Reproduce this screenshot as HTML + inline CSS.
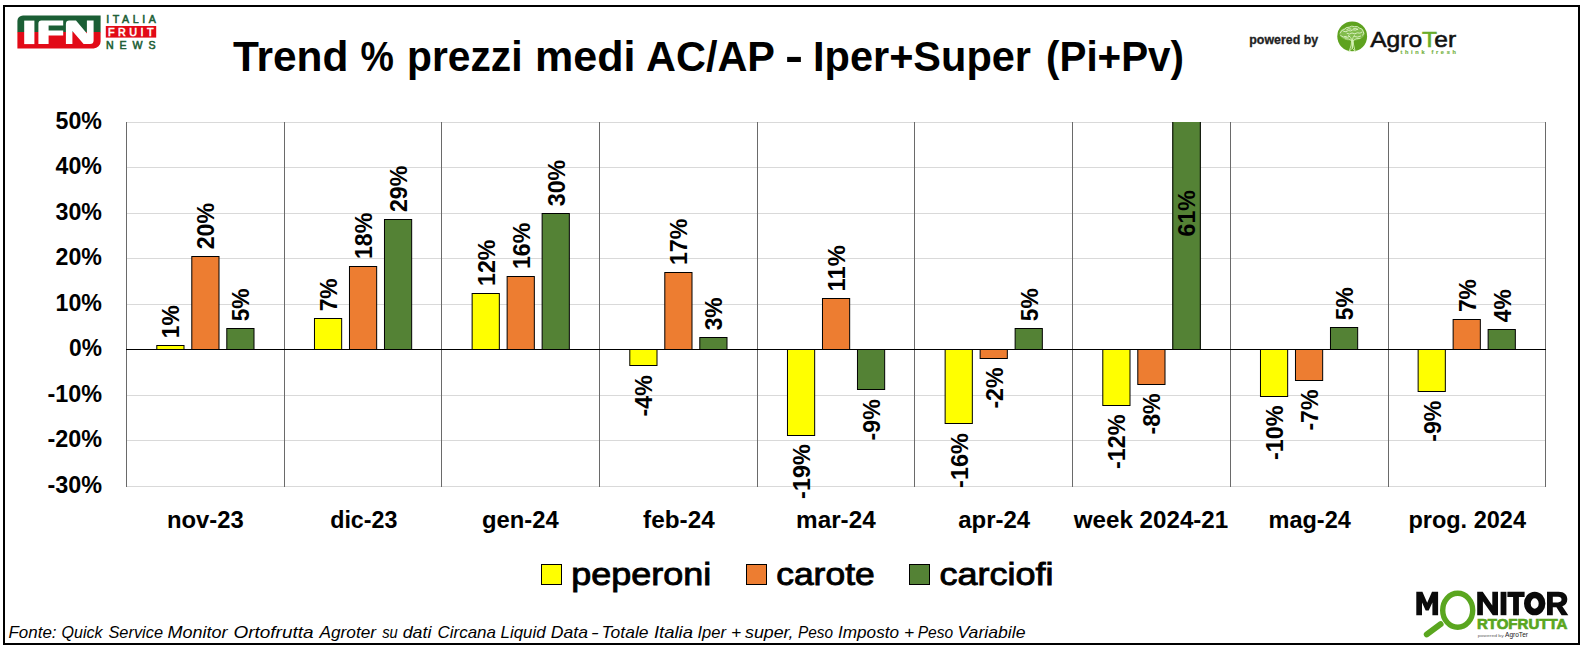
<!DOCTYPE html><html><head><meta charset="utf-8"><title>Trend prezzi</title><style>
html,body{margin:0;padding:0;background:#fff}body{width:1584px;height:648px;overflow:hidden}svg{display:block}
text{font-family:"Liberation Sans",sans-serif}.b{font-weight:bold}
</style></head><body>
<svg width="1584" height="648" viewBox="0 0 1584 648">
<rect x="0" y="0" width="1584" height="648" fill="#fff"/>
<rect x="4" y="6" width="1575" height="638" fill="none" stroke="#000" stroke-width="2" shape-rendering="crispEdges"/>
<g shape-rendering="crispEdges" stroke="#d9d9d9" stroke-width="1">
<line x1="126" x2="1546" y1="122.5" y2="122.5"/>
<line x1="126" x2="1546" y1="167.5" y2="167.5"/>
<line x1="126" x2="1546" y1="213.5" y2="213.5"/>
<line x1="126" x2="1546" y1="258.5" y2="258.5"/>
<line x1="126" x2="1546" y1="304.5" y2="304.5"/>
<line x1="126" x2="1546" y1="395.5" y2="395.5"/>
<line x1="126" x2="1546" y1="440.5" y2="440.5"/>
<line x1="126" x2="1546" y1="486.5" y2="486.5"/>
</g>
<g shape-rendering="crispEdges" stroke="#6a6a6a" stroke-width="1">
<line x1="126.5" x2="126.5" y1="122" y2="487"/>
<line x1="284.5" x2="284.5" y1="122" y2="487"/>
<line x1="441.5" x2="441.5" y1="122" y2="487"/>
<line x1="599.5" x2="599.5" y1="122" y2="487"/>
<line x1="757.5" x2="757.5" y1="122" y2="487"/>
<line x1="914.5" x2="914.5" y1="122" y2="487"/>
<line x1="1072.5" x2="1072.5" y1="122" y2="487"/>
<line x1="1230.5" x2="1230.5" y1="122" y2="487"/>
<line x1="1388.5" x2="1388.5" y1="122" y2="487"/>
<line x1="1545.5" x2="1545.5" y1="122" y2="487"/>
</g>
<g stroke="#000" stroke-width="1">
<rect x="156.80" y="345.50" width="27.2" height="4.00" fill="#ffff00"/>
<rect x="191.80" y="256.50" width="27.2" height="93.00" fill="#ed7d31"/>
<rect x="226.80" y="328.50" width="27.2" height="21.00" fill="#548235"/>
<rect x="314.47" y="318.50" width="27.2" height="31.00" fill="#ffff00"/>
<rect x="349.47" y="266.50" width="27.2" height="83.00" fill="#ed7d31"/>
<rect x="384.47" y="219.50" width="27.2" height="130.00" fill="#548235"/>
<rect x="472.13" y="293.50" width="27.2" height="56.00" fill="#ffff00"/>
<rect x="507.13" y="276.50" width="27.2" height="73.00" fill="#ed7d31"/>
<rect x="542.13" y="213.50" width="27.2" height="136.00" fill="#548235"/>
<rect x="629.80" y="349.50" width="27.2" height="16.00" fill="#ffff00"/>
<rect x="664.80" y="272.50" width="27.2" height="77.00" fill="#ed7d31"/>
<rect x="699.80" y="337.50" width="27.2" height="12.00" fill="#548235"/>
<rect x="787.47" y="349.50" width="27.2" height="86.00" fill="#ffff00"/>
<rect x="822.47" y="298.50" width="27.2" height="51.00" fill="#ed7d31"/>
<rect x="857.47" y="349.50" width="27.2" height="40.00" fill="#548235"/>
<rect x="945.13" y="349.50" width="27.2" height="74.00" fill="#ffff00"/>
<rect x="980.13" y="349.50" width="27.2" height="9.00" fill="#ed7d31"/>
<rect x="1015.13" y="328.50" width="27.2" height="21.00" fill="#548235"/>
<rect x="1102.80" y="349.50" width="27.2" height="56.00" fill="#ffff00"/>
<rect x="1137.80" y="349.50" width="27.2" height="35.00" fill="#ed7d31"/>
<rect x="1172.30" y="122" width="28.5" height="227" fill="#548235" stroke="none"/>
<line x1="1172.80" x2="1172.80" y1="122" y2="349"/><line x1="1200.30" x2="1200.30" y1="122" y2="349"/>
<rect x="1260.47" y="349.50" width="27.2" height="47.00" fill="#ffff00"/>
<rect x="1295.47" y="349.50" width="27.2" height="31.00" fill="#ed7d31"/>
<rect x="1330.47" y="327.50" width="27.2" height="22.00" fill="#548235"/>
<rect x="1418.13" y="349.50" width="27.2" height="42.00" fill="#ffff00"/>
<rect x="1453.13" y="319.50" width="27.2" height="30.00" fill="#ed7d31"/>
<rect x="1488.13" y="329.50" width="27.2" height="20.00" fill="#548235"/>
</g>
<line x1="126" x2="1546" y1="349.5" y2="349.5" stroke="#000" stroke-width="1" shape-rendering="crispEdges"/>
<g class="b" font-size="24.4" fill="#000">
<text transform="translate(179.4,338.2) rotate(-90)" text-anchor="start" textLength="32.9" lengthAdjust="spacingAndGlyphs">1%</text>
<text transform="translate(214.4,249.3) rotate(-90)" text-anchor="start" textLength="46.4" lengthAdjust="spacingAndGlyphs">20%</text>
<text transform="translate(249.4,321.3) rotate(-90)" text-anchor="start" textLength="32.9" lengthAdjust="spacingAndGlyphs">5%</text>
<text transform="translate(337.1,311.3) rotate(-90)" text-anchor="start" textLength="32.9" lengthAdjust="spacingAndGlyphs">7%</text>
<text transform="translate(372.1,259.1) rotate(-90)" text-anchor="start" textLength="46.4" lengthAdjust="spacingAndGlyphs">18%</text>
<text transform="translate(407.1,212.1) rotate(-90)" text-anchor="start" textLength="46.4" lengthAdjust="spacingAndGlyphs">29%</text>
<text transform="translate(494.7,286.0) rotate(-90)" text-anchor="start" textLength="46.4" lengthAdjust="spacingAndGlyphs">12%</text>
<text transform="translate(529.7,269.1) rotate(-90)" text-anchor="start" textLength="46.4" lengthAdjust="spacingAndGlyphs">16%</text>
<text transform="translate(564.7,206.2) rotate(-90)" text-anchor="start" textLength="46.4" lengthAdjust="spacingAndGlyphs">30%</text>
<text transform="translate(652.4,375.3) rotate(-90)" text-anchor="end" textLength="41.1" lengthAdjust="spacingAndGlyphs">-4%</text>
<text transform="translate(687.4,265.1) rotate(-90)" text-anchor="start" textLength="46.4" lengthAdjust="spacingAndGlyphs">17%</text>
<text transform="translate(722.4,330.3) rotate(-90)" text-anchor="start" textLength="32.9" lengthAdjust="spacingAndGlyphs">3%</text>
<text transform="translate(810.1,444.3) rotate(-90)" text-anchor="end" textLength="54.6" lengthAdjust="spacingAndGlyphs">-19%</text>
<text transform="translate(845.1,291.4) rotate(-90)" text-anchor="start" textLength="46.4" lengthAdjust="spacingAndGlyphs">11%</text>
<text transform="translate(880.1,399.3) rotate(-90)" text-anchor="end" textLength="41.1" lengthAdjust="spacingAndGlyphs">-9%</text>
<text transform="translate(967.7,433.3) rotate(-90)" text-anchor="end" textLength="54.6" lengthAdjust="spacingAndGlyphs">-16%</text>
<text transform="translate(1002.7,367.5) rotate(-90)" text-anchor="end" textLength="41.1" lengthAdjust="spacingAndGlyphs">-2%</text>
<text transform="translate(1037.7,321.2) rotate(-90)" text-anchor="start" textLength="32.9" lengthAdjust="spacingAndGlyphs">5%</text>
<text transform="translate(1125.4,414.5) rotate(-90)" text-anchor="end" textLength="54.6" lengthAdjust="spacingAndGlyphs">-12%</text>
<text transform="translate(1160.4,393.4) rotate(-90)" text-anchor="end" textLength="41.1" lengthAdjust="spacingAndGlyphs">-8%</text>
<text transform="translate(1195.4,236.5) rotate(-90)" text-anchor="start" textLength="46.4" lengthAdjust="spacingAndGlyphs">61%</text>
<text transform="translate(1283.1,405.4) rotate(-90)" text-anchor="end" textLength="54.6" lengthAdjust="spacingAndGlyphs">-10%</text>
<text transform="translate(1318.1,389.5) rotate(-90)" text-anchor="end" textLength="41.1" lengthAdjust="spacingAndGlyphs">-7%</text>
<text transform="translate(1353.1,320.2) rotate(-90)" text-anchor="start" textLength="32.9" lengthAdjust="spacingAndGlyphs">5%</text>
<text transform="translate(1440.7,400.6) rotate(-90)" text-anchor="end" textLength="41.1" lengthAdjust="spacingAndGlyphs">-9%</text>
<text transform="translate(1475.7,312.1) rotate(-90)" text-anchor="start" textLength="32.9" lengthAdjust="spacingAndGlyphs">7%</text>
<text transform="translate(1510.7,322.2) rotate(-90)" text-anchor="start" textLength="32.9" lengthAdjust="spacingAndGlyphs">4%</text>
</g>
<g class="b" font-size="24.4" fill="#000" text-anchor="end">
<text x="102.0" y="129" textLength="46.4" lengthAdjust="spacingAndGlyphs">50%</text>
<text x="102.0" y="174" textLength="46.4" lengthAdjust="spacingAndGlyphs">40%</text>
<text x="102.0" y="220" textLength="46.4" lengthAdjust="spacingAndGlyphs">30%</text>
<text x="102.0" y="265" textLength="46.4" lengthAdjust="spacingAndGlyphs">20%</text>
<text x="102.0" y="311" textLength="46.4" lengthAdjust="spacingAndGlyphs">10%</text>
<text x="102.0" y="356" textLength="32.9" lengthAdjust="spacingAndGlyphs">0%</text>
<text x="102.0" y="402" textLength="54.6" lengthAdjust="spacingAndGlyphs">-10%</text>
<text x="102.0" y="447" textLength="54.6" lengthAdjust="spacingAndGlyphs">-20%</text>
<text x="102.0" y="493" textLength="54.6" lengthAdjust="spacingAndGlyphs">-30%</text>
</g>
<g class="b" font-size="24.4" fill="#000" text-anchor="middle">
<text x="205.3" y="527.8" textLength="76.8" lengthAdjust="spacingAndGlyphs">nov-23</text>
<text x="363.8" y="527.8" textLength="67.2" lengthAdjust="spacingAndGlyphs">dic-23</text>
<text x="520.4" y="527.8" textLength="76.6" lengthAdjust="spacingAndGlyphs">gen-24</text>
<text x="678.9" y="527.8" textLength="71.6" lengthAdjust="spacingAndGlyphs">feb-24</text>
<text x="835.9" y="527.8" textLength="79.6" lengthAdjust="spacingAndGlyphs">mar-24</text>
<text x="994.2" y="527.8" textLength="72.0" lengthAdjust="spacingAndGlyphs">apr-24</text>
<text x="1151" y="527.8" textLength="154.5" lengthAdjust="spacingAndGlyphs">week 2024-21</text>
<text x="1309.7" y="527.8" textLength="82.2" lengthAdjust="spacingAndGlyphs">mag-24</text>
<text x="1467.2" y="527.8" textLength="117.6" lengthAdjust="spacingAndGlyphs">prog. 2024</text>
</g>
<g class="b" font-size="43.3" fill="#000">
<text x="232.98" y="70.5" textLength="115.47" lengthAdjust="spacingAndGlyphs">Trend</text>
<text x="360.58" y="70.5" textLength="33.39" lengthAdjust="spacingAndGlyphs">%</text>
<text x="407.00" y="70.5" textLength="115.50" lengthAdjust="spacingAndGlyphs">prezzi</text>
<text x="535.00" y="70.5" textLength="100.51" lengthAdjust="spacingAndGlyphs">medi</text>
<text x="646.02" y="70.5" textLength="128.96" lengthAdjust="spacingAndGlyphs">AC/AP</text>
<text x="784.96" y="70.5" textLength="18.07" lengthAdjust="spacingAndGlyphs">-</text>
<text x="813.02" y="70.5" textLength="217.98" lengthAdjust="spacingAndGlyphs">Iper+Super</text>
<text x="1046.02" y="70.5" textLength="137.97" lengthAdjust="spacingAndGlyphs">(Pi+Pv)</text>
</g>
<g shape-rendering="crispEdges" stroke="#000" stroke-width="1">
<rect x="541.5" y="564.5" width="20" height="20" fill="#ffff00"/>
<rect x="746.5" y="564.5" width="20" height="20" fill="#ed7d31"/>
<rect x="909.5" y="564.5" width="20" height="20" fill="#548235"/>
</g>
<g font-size="31.8" fill="#000" stroke="#000" stroke-width="0.9">
<text x="571.3" y="585" textLength="140" lengthAdjust="spacingAndGlyphs">peperoni</text>
<text x="776.2" y="585" textLength="98.5" lengthAdjust="spacingAndGlyphs">carote</text>
<text x="939.6" y="585" textLength="114" lengthAdjust="spacingAndGlyphs">carciofi</text>
</g>
<g font-size="16.6" font-style="italic" fill="#000">
<text x="8.50" y="637.8" textLength="48.00" lengthAdjust="spacingAndGlyphs">Fonte:</text>
<text x="61.51" y="637.8" textLength="41.03" lengthAdjust="spacingAndGlyphs">Quick</text>
<text x="108.48" y="637.8" textLength="54.51" lengthAdjust="spacingAndGlyphs">Service</text>
<text x="167.50" y="637.8" textLength="60.02" lengthAdjust="spacingAndGlyphs">Monitor</text>
<text x="233.50" y="637.8" textLength="80.00" lengthAdjust="spacingAndGlyphs">Ortofrutta</text>
<text x="319.45" y="637.8" textLength="56.61" lengthAdjust="spacingAndGlyphs">Agroter</text>
<text x="382.19" y="637.8" textLength="15.62" lengthAdjust="spacingAndGlyphs">su</text>
<text x="402.68" y="637.8" textLength="28.81" lengthAdjust="spacingAndGlyphs">dati</text>
<text x="437.51" y="637.8" textLength="58.49" lengthAdjust="spacingAndGlyphs">Circana</text>
<text x="500.53" y="637.8" textLength="45.06" lengthAdjust="spacingAndGlyphs">Liquid</text>
<text x="550.82" y="637.8" textLength="37.14" lengthAdjust="spacingAndGlyphs">Data</text>
<text x="590.88" y="637.8" textLength="8.01" lengthAdjust="spacingAndGlyphs">-</text>
<text x="601.52" y="637.8" textLength="47.00" lengthAdjust="spacingAndGlyphs">Totale</text>
<text x="653.99" y="637.8" textLength="39.03" lengthAdjust="spacingAndGlyphs">Italia</text>
<text x="697.51" y="637.8" textLength="28.51" lengthAdjust="spacingAndGlyphs">Iper</text>
<text x="730.99" y="637.8" textLength="10.22" lengthAdjust="spacingAndGlyphs">+</text>
<text x="744.99" y="637.8" textLength="48.54" lengthAdjust="spacingAndGlyphs">super,</text>
<text x="798.01" y="637.8" textLength="35.00" lengthAdjust="spacingAndGlyphs">Peso</text>
<text x="838.02" y="637.8" textLength="60.99" lengthAdjust="spacingAndGlyphs">Imposto</text>
<text x="903.99" y="637.8" textLength="10.22" lengthAdjust="spacingAndGlyphs">+</text>
<text x="917.73" y="637.8" textLength="35.45" lengthAdjust="spacingAndGlyphs">Peso</text>
<text x="957.50" y="637.8" textLength="68.00" lengthAdjust="spacingAndGlyphs">Variabile</text>
</g>
<g id="ifn">
<path d="M23,15.4 H100.6 V32.2 H17.4 V21 A5.6,5.6 0 0 1 23,15.4 Z" fill="#1b5e35"/>
<path d="M17.4,32.1 H100.6 V41.4 A7,7 0 0 1 93.6,48.4 H17.4 Z" fill="#e20a17"/>
<rect x="24.2" y="20.6" width="10.2" height="23.5" fill="#fff"/>
<path d="M38.4,44.1 V23.6 Q38.4,20.6 41.4,20.6 H63.2 V25.4 H48.6 V30.4 H63.2 V35.6 H48.6 V44.1 Z" fill="#fff"/>
<path d="M65.9,44.1 V24 Q65.9,20.6 69.3,20.6 H76 L86.9,33.6 V20.6 H93.6 V40.5 Q93.6,44.1 90,44.1 H83.6 L72.4,30.9 V44.1 Z" fill="#fff"/>
<text x="106.2" y="23.2" font-size="10.6" fill="#1b5e35" stroke="#1b5e35" stroke-width="0.55" textLength="49.6" lengthAdjust="spacing">ITALIA</text>
<rect x="105.8" y="26" width="50.4" height="11.6" fill="#e20a17"/>
<text x="108" y="35.8" font-size="10.8" fill="#fff" stroke="#fff" stroke-width="0.55" textLength="45.6" lengthAdjust="spacing">FRUIT</text>
<text x="106" y="48.9" font-size="10.6" fill="#1b5e35" stroke="#1b5e35" stroke-width="0.55" textLength="49.6" lengthAdjust="spacing">NEWS</text>
</g>
<g id="agroter">
<text class="b" x="1249.3" y="43.8" font-size="11.9" fill="#222" stroke="#222" stroke-width="0.3" textLength="68.8" lengthAdjust="spacingAndGlyphs">powered by</text>
<circle cx="1352.2" cy="36.4" r="14.9" fill="#5ea21f"/>
<g fill="none" stroke="#d4efb4" stroke-linecap="round" stroke-linejoin="round">
<ellipse cx="1352" cy="33.6" rx="12.6" ry="7.2" fill="#b5df8c" fill-opacity="0.42" stroke="none"/>
<path d="M1349.2,51.4 L1351.2,45 L1351.6,40.5 M1355.2,51.4 L1353.6,45 L1353.2,40.5 M1349.2,51.4 L1352.2,48.2 L1355.2,51.4" stroke-width="0.9"/>
<path d="M1352.4,40.5 L1352.4,47.5" stroke-width="1.5"/>
<path d="M1351.6,40.5 q-2.5,-2.2 -6.5,-1.8 M1353.2,40.5 q2.5,-2.6 6.8,-2.2 M1352.4,40 q0.2,-3 2.2,-5 M1352,40 q-1,-3 -3.6,-4.6" stroke-width="0.9"/>
<path d="M1340.2,33 q1,-3.2 4.2,-3.6 q1.6,-2.6 4.8,-2.2 q2.4,-1.8 5.2,-0.6 q3.4,-0.8 5,1.4 q3.4,0.6 3.8,3.4 q1.4,2 -0.4,3.8 M1340.6,35.6 q2.4,2.6 5.6,1 M1347,33.4 q2.6,1.6 5,-0.4 q2.8,1.6 5.4,-0.2 q2.6,1.2 4.6,-0.6 M1343.6,31.4 q2.6,1.2 4.6,-0.8 q2.6,1 4.6,-0.8 q3,1 5,-0.6 M1344.4,37 q3,1.2 5.4,-0.6 M1354.6,36.6 q3,1.2 6,-0.4 M1346.6,29.6 q2,-1.6 4.4,-0.6 M1353.6,28.6 q2.4,-0.8 4.2,0.8" stroke-width="0.85" stroke="#e4f6cf"/>
</g>
<text x="1370.2" y="47.1" font-size="22.4" fill="#111" stroke="#111" stroke-width="0.55" textLength="86" lengthAdjust="spacingAndGlyphs">Agro<tspan fill="#6aad2b" stroke="#6aad2b">T</tspan>er</text>
<text class="b" x="1400.4" y="54" font-size="5.6" fill="#74b23f" stroke="#74b23f" stroke-width="0.2" textLength="55.5" lengthAdjust="spacing">think fresh</text>
</g>
<g id="monitor">
<path d="M1416.3,615.2 V591.8 H1422.4 L1427.2,602.8 L1432,591.8 H1438.1 V615.2 H1432.4 V602.4 L1428.7,610.6 H1425.7 L1422,602.4 V615.2 Z" fill="#0a0a0a"/>
<path d="M1477.2,615.2 V591.8 H1482.7 L1492.3,605.4 V591.8 H1498 V615.2 H1492.8 L1482.9,601.3 V615.2 Z" fill="#0a0a0a"/>
<rect x="1500.6" y="591.8" width="5.8" height="23.4" fill="#0a0a0a"/>
<path d="M1507.4,591.8 H1524.6 V597 H1518.9 V615.2 H1513.1 V597 H1507.4 Z" fill="#0a0a0a"/>
<ellipse cx="1534.7" cy="603.5" rx="7.35" ry="8.5" fill="none" stroke="#0a0a0a" stroke-width="6.7"/>
<path fill-rule="evenodd" d="M1547,615.2 V591.8 H1558.5 C1564.5,591.8 1567.3,595 1567.3,599.3 C1567.3,602.8 1565.5,605.2 1562.3,606.3 L1568.3,615.2 H1561.6 L1556.4,607.2 H1552.8 V615.2 Z M1552.8,596.8 V602.4 H1558 C1560.3,602.4 1561.5,601.3 1561.5,599.6 C1561.5,597.8 1560.3,596.8 1558,596.8 Z" fill="#0a0a0a"/>
<ellipse cx="1457.7" cy="610.3" rx="15.0" ry="17.0" fill="none" stroke="#5aa61f" stroke-width="5.4"/>
<line x1="1440.6" y1="624.2" x2="1426.8" y2="634.4" stroke="#5aa61f" stroke-width="6" stroke-linecap="round"/>
<text class="b" x="1476.9" y="628.8" font-size="14.3" fill="#5aa61f" stroke="#5aa61f" stroke-width="0.7" textLength="90.5" lengthAdjust="spacingAndGlyphs">RTOFRUTTA</text>
<text x="1477.7" y="636.6" font-size="4.2" fill="#666" textLength="26" lengthAdjust="spacingAndGlyphs">powered by</text>
<text x="1505" y="637" font-size="6.6" fill="#222" textLength="23" lengthAdjust="spacingAndGlyphs">AgroTer</text>
</g>
</svg></body></html>
